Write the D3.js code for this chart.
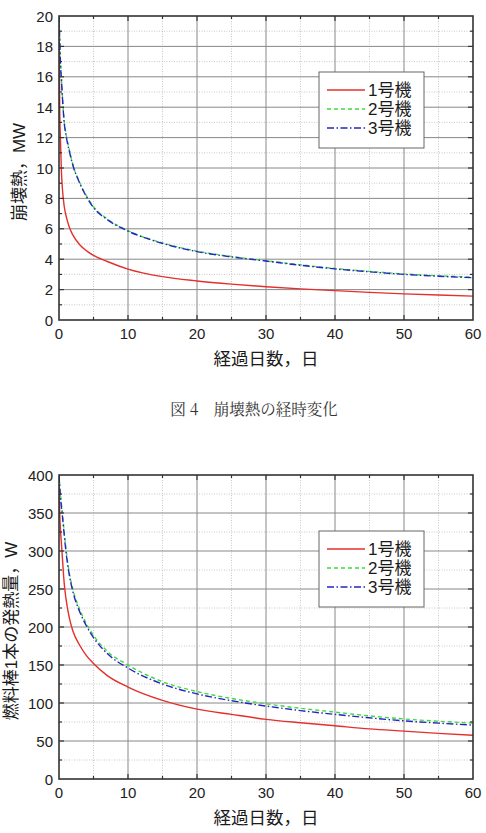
<!DOCTYPE html>
<meta charset="utf-8">
<style>
body { margin: 0; background: #fff; }
text { font-family: "Liberation Sans", Arial, "Noto Sans CJK JP", sans-serif; fill: #222; }
.cjk { font-family: "Liberation Sans", Arial, "Noto Sans CJK JP", sans-serif; fill: #1a1a1a; }
.caption { font-family: "Noto Serif CJK JP", "Noto Sans CJK JP", serif; fill: #333; }
.major line { stroke: #888; stroke-width: 1; }
.minor line { stroke: #c8c8c8; stroke-width: 1; stroke-dasharray: 1,1.5; }
.frame { fill: none; stroke: #333; stroke-width: 1.6; }
.tick-mark { stroke: #333; stroke-width: 1.2; }
.series { fill: none; stroke-width: 1.4; }
</style>
<svg width="486" height="833"></svg>
<script src="https://d3js.org/d3.v7.min.js"></script>
<script>

var svg = d3.select("svg");

// days since shutdown
var days = [0, 0.1, 0.2, 0.35, 0.5, 0.75, 1, 1.5, 2, 3, 4, 5, 7, 10, 15, 20, 25, 30, 35, 40, 45, 50, 55, 60];

// decay heat, MW
var heatUnit1 = [20, 14, 12, 9.8, 8.6, 7.5, 6.9, 6.1, 5.6, 4.95, 4.55, 4.25, 3.85, 3.35, 2.85, 2.57, 2.36, 2.19, 2.05, 1.93, 1.82, 1.72, 1.64, 1.57];
var heatUnit2 = [20, 18.6, 17.2, 15.9, 14.7, 13.1, 12.3, 11.2, 10.25, 9.05, 8.15, 7.45, 6.65, 5.88, 5.07, 4.53, 4.18, 3.9, 3.63, 3.39, 3.2, 3.03, 2.91, 2.82];
var heatUnit3 = [20, 18.5, 17, 15.8, 14.6, 13, 12.2, 11.1, 10.2, 9, 8.1, 7.4, 6.6, 5.85, 5.04, 4.5, 4.15, 3.88, 3.6, 3.36, 3.17, 3, 2.88, 2.78];

// heat per fuel rod, W
var rodUnit1 = [400, 350, 330, 310, 290, 258, 238, 212, 195, 176, 162, 152, 136, 121, 103.5, 92, 85, 78.5, 74, 70, 66, 63, 60, 57.5];
var rodUnit2 = [400, 388, 376, 362, 349, 326, 304, 271, 250, 223, 204, 189, 168, 150, 128, 115, 106, 99, 93, 88, 83, 79, 76, 73.5];
var rodUnit3 = [400, 385, 372, 358, 345, 322, 300, 268, 247, 220, 201, 186, 165, 146, 125, 112, 103, 96, 90, 85, 80.5, 76.5, 73.5, 71];

var unitNames = ["1号機", "2号機", "3号機"];
var unitColors = ["#e3302c", "#3ddc3d", "#2424c4"];
var unitDashes = [null, "4,3", "7,2.5,1.5,2.5"];

var xTicks = [0, 10, 20, 30, 40, 50, 60];
var heatTicks = [0, 2, 4, 6, 8, 10, 12, 14, 16, 18, 20];
var rodTicks = [0, 50, 100, 150, 200, 250, 300, 350, 400];

function drawChart(top, yMax, yStep, yTicks, seriesList, yTitle, yTitleX, legendTop) {
  var left = 59, width = 414, height = 304;
  var x = d3.scaleLinear().domain([0, 60]).range([left, left + width]);
  var y = d3.scaleLinear().domain([0, yMax]).range([top + height, top]);

  var xMinor = d3.range(5, 60, 10);
  var yMinor = d3.range(yStep / 2, yMax, yStep);
  var xMajor = xTicks.slice(1, -1);
  var yMajor = yTicks.slice(1, -1);

  var g = svg.append("g");

  // minor grid
  var minor = g.append("g").attr("class", "minor");
  minor.selectAll(".vx").data(xMinor).enter().append("line")
      .attr("x1", x).attr("x2", x).attr("y1", top).attr("y2", top + height);
  minor.selectAll(".hy").data(yMinor).enter().append("line")
      .attr("x1", left).attr("x2", left + width).attr("y1", y).attr("y2", y);

  // major grid
  var major = g.append("g").attr("class", "major");
  major.selectAll(".vx").data(xMajor).enter().append("line")
      .attr("x1", x).attr("x2", x).attr("y1", top).attr("y2", top + height);
  major.selectAll(".hy").data(yMajor).enter().append("line")
      .attr("x1", left).attr("x2", left + width).attr("y1", y).attr("y2", y);

  // series
  var line = d3.line()
      .x(function(d, i) { return x(days[i]); })
      .y(function(d) { return y(d); })
      .curve(d3.curveMonotoneX);

  var clipId = "clip" + top;
  svg.append("clipPath").attr("id", clipId)
    .append("rect").attr("x", left).attr("y", top - 1).attr("width", width).attr("height", height + 1);

  g.append("g").attr("clip-path", "url(#" + clipId + ")")
    .selectAll("path").data(seriesList).enter().append("path")
      .attr("class", "series")
      .attr("d", function(d) { return line(d); })
      .attr("stroke", function(d, i) { return unitColors[i]; })
      .attr("stroke-dasharray", function(d, i) { return unitDashes[i]; });

  // ticks on all four sides, pointing inward
  var ticks = g.append("g");
  function xt(vals, len) {
    vals.forEach(function(v) {
      ticks.append("line").attr("class", "tick-mark")
        .attr("x1", x(v)).attr("x2", x(v)).attr("y1", top + height).attr("y2", top + height - len);
      ticks.append("line").attr("class", "tick-mark")
        .attr("x1", x(v)).attr("x2", x(v)).attr("y1", top).attr("y2", top + len);
    });
  }
  function yt(vals, len) {
    vals.forEach(function(v) {
      ticks.append("line").attr("class", "tick-mark")
        .attr("x1", left).attr("x2", left + len).attr("y1", y(v)).attr("y2", y(v));
      ticks.append("line").attr("class", "tick-mark")
        .attr("x1", left + width).attr("x2", left + width - len).attr("y1", y(v)).attr("y2", y(v));
    });
  }
  xt(xMajor, 5); xt(xMinor, 3);
  yt(yMajor, 5); yt(yMinor, 3);

  g.append("rect").attr("class", "frame")
    .attr("x", left).attr("y", top).attr("width", width).attr("height", height);

  // tick labels
  g.selectAll(".xl").data(xTicks).enter().append("text")
      .attr("x", x).attr("y", top + height + 19)
      .attr("text-anchor", "middle").attr("font-size", 15)
      .text(function(d) { return d; });
  g.selectAll(".yl").data(yTicks).enter().append("text")
      .attr("x", left - 6).attr("y", function(d) { return y(d) + 5.5; })
      .attr("text-anchor", "end").attr("font-size", 15)
      .text(function(d) { return d; });

  // axis titles
  g.append("text").attr("class", "cjk")
      .attr("x", 266).attr("y", top + height + 45)
      .attr("text-anchor", "middle").attr("font-size", 17.5)
      .text("経過日数，日");
  g.append("text").attr("class", "cjk")
      .attr("transform", "translate(" + yTitleX + "," + (top + height / 2 + 4) + ") rotate(-90)")
      .attr("text-anchor", "middle").attr("dy", "0.35em").attr("font-size", 17)
      .text(yTitle);

  // legend
  var lg = g.append("g").attr("transform", "translate(319," + legendTop + ")");
  lg.append("rect").attr("width", 105).attr("height", 76)
      .attr("fill", "#fff").attr("stroke", "#666").attr("stroke-width", 1);
  unitNames.forEach(function(name, i) {
    var ly = 18 + i * 19;
    lg.append("line").attr("x1", 8).attr("x2", 46).attr("y1", ly).attr("y2", ly)
        .attr("stroke", unitColors[i]).attr("stroke-width", 1.4)
        .attr("stroke-dasharray", unitDashes[i]);
    lg.append("text").attr("class", "cjk").attr("x", 49).attr("y", ly + 6)
        .attr("font-size", 17).text(name);
  });
}

drawChart(16, 20, 2, heatTicks, [heatUnit1, heatUnit2, heatUnit3], "崩壊熱，MW", 19, 72);
drawChart(475, 400, 50, rodTicks, [rodUnit1, rodUnit2, rodUnit3], "燃料棒1本の発熱量，W", 11, 531);

svg.append("text").attr("class", "caption")
    .attr("x", 254).attr("y", 415)
    .attr("text-anchor", "middle").attr("font-size", 15.5)
    .text("図 4　崩壊熱の経時変化");

</script>
